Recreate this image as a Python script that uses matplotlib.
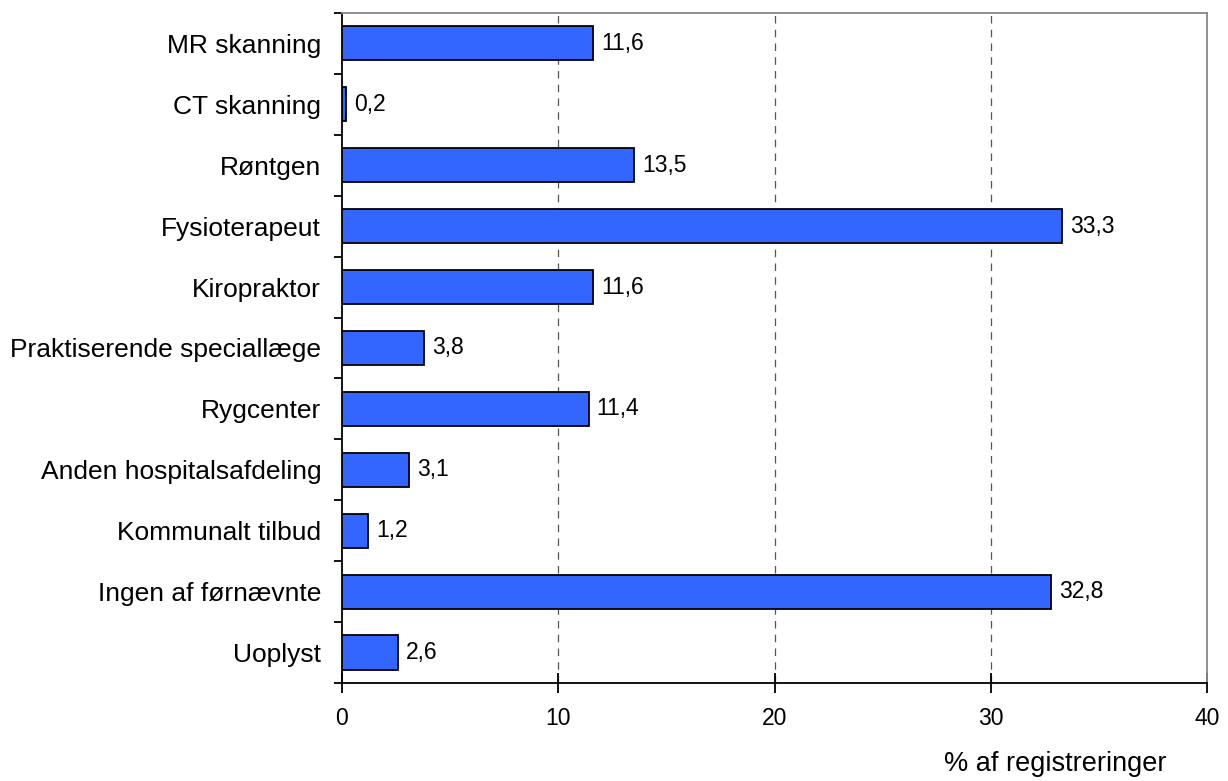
import matplotlib.pyplot as plt
import numpy as np

plt.rcParams['font.family'] = ['Liberation Sans', 'DejaVu Sans']

# Kategorier og værdier (% af registreringer)
kategorier = ["MR skanning", "CT skanning", "Røntgen", "Fysioterapeut", "Kiropraktor",
              "Praktiserende speciallæge", "Rygcenter", "Anden hospitalsafdeling",
              "Kommunalt tilbud", "Ingen af førnævnte", "Uoplyst"]
vaerdier = [11.6, 0.2, 13.5, 33.3, 11.6, 3.8, 11.4, 3.1, 1.2, 32.8, 2.6]
xticks = [0, 10, 20, 30, 40]

fig = plt.figure(figsize=(12.28, 7.81), dpi=100)
ax = fig.add_axes([0.2785, 0.1255, 0.983 - 0.2785, 0.9834 - 0.1255])

y = np.arange(len(kategorier))
ax.barh(y, vaerdier, height=0.56, color="#3366FF", edgecolor="black", linewidth=1.3, zorder=3)

for yi, v in zip(y, vaerdier):
    ax.text(v + 0.37, yi, f"{v:.1f}".replace(".", ","), va="center", ha="left", fontsize=16.5)

ax.set_ylim(len(kategorier) - 0.5, -0.5)
ax.set_xlim(0, 40)
ax.set_yticks(y)
ax.set_yticklabels(kategorier, fontsize=19)
ax.set_yticks(np.arange(len(kategorier) + 1) - 0.5, minor=True)
ax.tick_params(axis="y", which="major", length=0, pad=15)
ax.tick_params(axis="y", which="minor", length=6, width=1.3, direction="out")
ax.set_xticks(xticks)
ax.set_xticklabels([str(t) for t in xticks], fontsize=16.5)
ax.tick_params(axis="x", direction="inout", length=14, width=1.3, pad=10)

for t in xticks[1:-1]:
    ax.axvline(t, color="#555555", linestyle=(0, (6, 5)), linewidth=0.9, zorder=1)

ax.spines["left"].set_linewidth(1.3)
ax.spines["bottom"].set_linewidth(1.3)
ax.spines["top"].set_color("#888888")
ax.spines["right"].set_color("#888888")
ax.spines["top"].set_linewidth(1.3)
ax.spines["right"].set_linewidth(1.3)

fig.text(1166 / 1228, 1 - 764 / 781, "% af registreringer", ha="right", va="center", fontsize=19.5)

fig.savefig("out.png", dpi=100)
